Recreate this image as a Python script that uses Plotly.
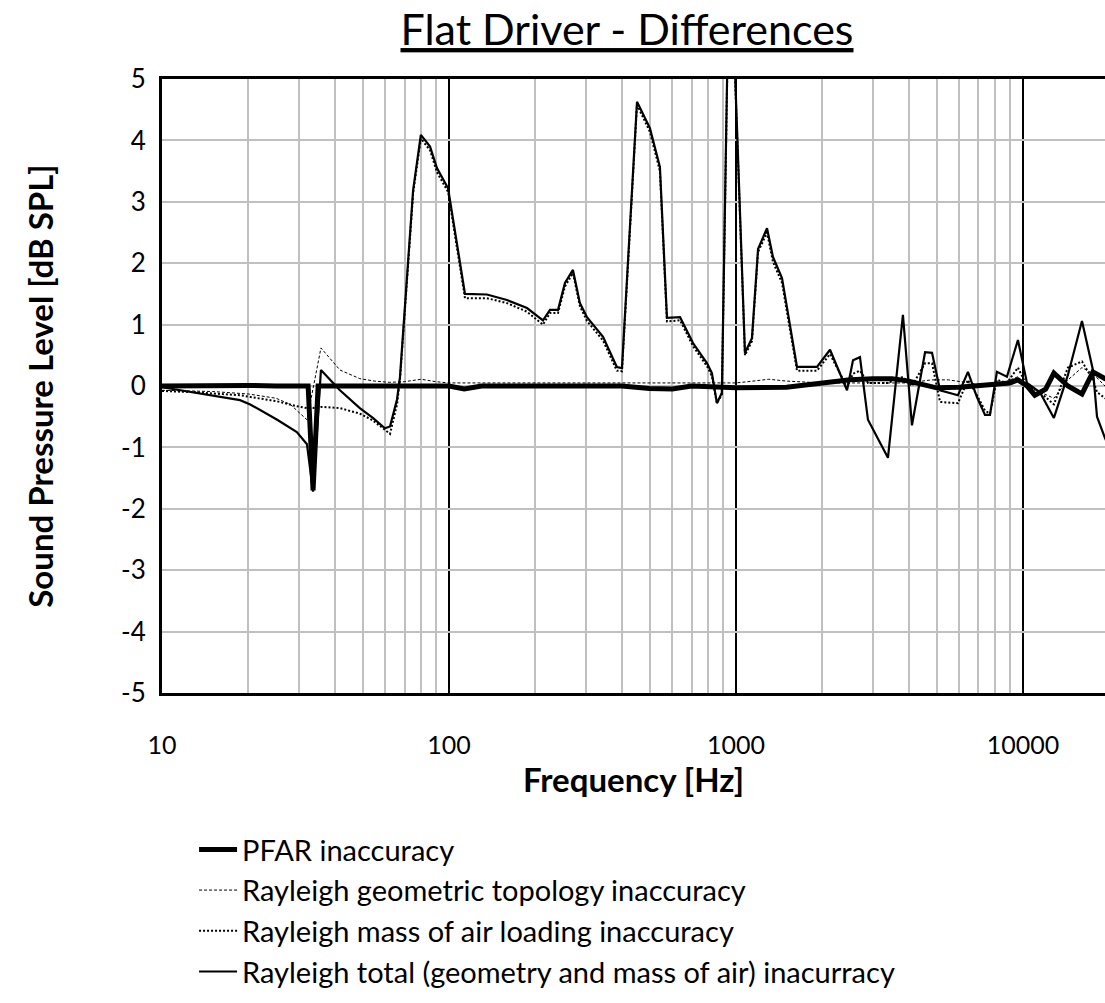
import plotly.graph_objects as go

# ---------------- data ----------------
freq_total = [10, 12.8, 18.7, 20.3, 25.2, 29.5, 32.0, 33.6, 35.8, 41.7, 48.9, 54.3, 59.8, 62.3, 65.9, 67.5,
              75.0, 79.8, 85.9, 90.8, 99.3, 113.7, 135.6, 159.2, 187.0, 212.6, 225.0, 239.9, 253.6, 270.4,
              285.9, 302.6, 344.2, 384.6, 400.7, 452.1, 501.4, 543.3, 574.9, 638.5, 708.5, 793.2, 824.4,
              858.4, 893.2, 946.6, 968.9, 1075, 1137, 1194, 1283, 1346, 1447, 1632, 1916, 2127, 2438, 2558,
              2705, 2884, 3386, 3818, 4105, 4560, 4822, 5143, 5938, 6433, 6914, 7376, 7677, 8117, 8795,
              9608, 10330, 11460, 12820, 14350, 16060, 17540, 18120, 19320, 20000]

rayleigh_total = [-0.02, -0.10, -0.23, -0.30, -0.55, -0.75, -0.95, -1.72, 0.26, -0.07, -0.36, -0.52, -0.69,
                  -0.66, -0.22, 0.15, 3.19, 4.09, 3.90, 3.55, 3.22, 1.50, 1.49, 1.40, 1.27, 1.07, 1.24, 1.24,
                  1.68, 1.89, 1.35, 1.12, 0.80, 0.31, 0.29, 4.63, 4.20, 3.57, 1.11, 1.12, 0.70, 0.37, 0.21,
                  -0.28, -0.11, 7.0, 6.5, 0.54, 0.78, 2.23, 2.57, 2.10, 1.76, 0.31, 0.31, 0.59, -0.07, 0.42,
                  0.47, -0.55, -1.17, 1.16, -0.64, 0.55, 0.54, -0.07, -0.15, 0.23, -0.18, -0.47, -0.47, 0.23,
                  0.15, 0.75, 0.05, -0.10, -0.52, 0.18, 1.06, 0.26, -0.50, -0.85, -1.0]

rayleigh_mass = [-0.08, -0.10, -0.15, -0.18, -0.25, -0.33, -0.36, -0.36, -0.34, -0.36, -0.45, -0.56, -0.72,
                 -0.78, -0.30, 0.10, 3.14, 4.03, 3.84, 3.48, 3.16, 1.43, 1.43, 1.35, 1.21, 1.00, 1.19, 1.19,
                 1.62, 1.84, 1.30, 1.06, 0.74, 0.25, 0.24, 4.58, 4.14, 3.50, 1.05, 1.07, 0.65, 0.32, 0.16,
                 -0.28, -0.14, 6.9, 6.4, 0.50, 0.73, 2.18, 2.50, 2.02, 1.68, 0.25, 0.25, 0.52, -0.02, 0.20,
                 0.25, 0.05, 0.05, 0.15, 0.00, 0.37, 0.37, -0.26, -0.28, 0.10, -0.15, -0.40, -0.45, 0.10,
                 0.05, 0.30, 0.00, -0.10, -0.30, 0.30, 0.40, 0.10, -0.10, -0.20, -0.25]

freq_geo = [10, 15, 20, 25, 28, 30.5, 32, 35.8, 41.7, 48.9, 55, 62, 70, 80, 90, 100, 200, 400, 700, 1000,
            1100, 1300, 1500, 2000, 2500, 3000, 4000, 4800, 5500, 6500, 7500, 8500, 9600, 10330, 11460,
            12820, 14350, 16060, 17540, 19320, 20000]
rayleigh_geo = [-0.07, -0.09, -0.13, -0.20, -0.30, -0.45, -0.55, 0.62, 0.26, 0.12, 0.08, 0.06, 0.07, 0.11,
                0.07, 0.05, 0.05, 0.05, 0.05, 0.05, 0.07, 0.11, 0.08, 0.05, 0.05, 0.05, 0.05, 0.10, 0.10,
                0.05, 0.00, 0.05, 0.15, 0.0, -0.10, -0.20, 0.10, 0.30, 0.20, 0.0, -0.1]

freq_pfar = [10, 15, 20, 25, 30, 32.3, 33.6, 35.0, 40, 60, 100, 113, 130, 200, 400, 500, 600, 700, 1000,
             1500, 2000, 2500, 3000, 3500, 4000, 4500, 5000, 6000, 7000, 8000, 9000, 9600, 10330, 11000,
             12000, 12820, 14350, 16060, 17540, 19320, 20000]
pfar = [0.0, 0.01, 0.01, 0.0, 0.0, 0.0, -1.70, 0.0, 0.0, 0.0, 0.0, -0.05, 0.0, 0.0, 0.0, -0.04, -0.05, 0.0,
        -0.03, -0.02, 0.05, 0.10, 0.12, 0.12, 0.08, 0.02, -0.03, -0.02, 0.0, 0.02, 0.05, 0.10, 0.0, -0.15,
        -0.05, 0.21, 0.0, -0.13, 0.23, 0.12, 0.1]

x_tickvals = [10, 100, 1000, 10000]
x_ticktext = ["10", "100", "1000", "10000"]
y_tickvals = [-5, -4, -3, -2, -1, 0, 1, 2, 3, 4, 5]
y_ticktext = ["-5", "-4", "-3", "-2", "-1", "0", "1", "2", "3", "4", "5"]

FONT = "Lato"

fig = go.Figure()
fig.add_trace(go.Scatter(x=freq_pfar, y=pfar, mode="lines", name="PFAR inaccuracy",
                         legendgroup="g1", line=dict(color="black", width=5)))
fig.add_trace(go.Scatter(x=freq_geo, y=rayleigh_geo, mode="lines",
                         name="Rayleigh geometric topology inaccuracy", legendgroup="g2",
                         line=dict(color="black", width=1, dash="3px,2px")))
fig.add_trace(go.Scatter(x=freq_total, y=rayleigh_mass, mode="lines",
                         name="Rayleigh mass of air loading inaccuracy", legendgroup="g3",
                         line=dict(color="black", width=2, dash="2px,2px")))
fig.add_trace(go.Scatter(x=freq_total, y=rayleigh_total, mode="lines",
                         name="Rayleigh total (geometry and mass of air) inacurracy", legendgroup="g4",
                         line=dict(color="black", width=2.2)))

fig.update_layout(
    width=1105, height=1003,
    margin=dict(l=162, r=0, t=79, b=310),
    paper_bgcolor="white", plot_bgcolor="white",
    font=dict(family=FONT, color="black"),
    title=dict(text="Flat Driver - Differences", xref="container", yref="container",
               x=627 / 1105, y=1 - 30 / 1003, xanchor="center", yanchor="middle",
               font=dict(family=FONT, size=43, color="black", lineposition="under")),
    showlegend=True,
    legend=dict(orientation="v", x=0.034, y=-0.2134, xanchor="left", yanchor="top",
                font=dict(family=FONT, size=29, color="black"), tracegroupgap=0,
                itemwidth=38, bgcolor="rgba(0,0,0,0)"),
    xaxis=dict(type="log", range=[1, 4.286], tickvals=x_tickvals, ticktext=x_ticktext,
               showgrid=True, gridcolor="black", gridwidth=2,
               minor=dict(showgrid=True, gridcolor="#c0c0c0", gridwidth=2, dtick="D1", ticks=""),
               showline=True, linecolor="black", linewidth=3, mirror=True,
               ticks="", ticklabelstandoff=28,
               tickfont=dict(family=FONT, size=25, color="black"),
               title=dict(text="<b>Frequency [Hz]</b>", standoff=3,
                          font=dict(family=FONT, size=33, color="black"))),
    yaxis=dict(range=[-5, 5], tickvals=y_tickvals, ticktext=y_ticktext,
               showgrid=True, gridcolor="#c0c0c0", gridwidth=2,
               zeroline=False, showline=True, linecolor="black", linewidth=3, mirror=False,
               ticks="", ticklabelstandoff=8,
               tickfont=dict(family=FONT, size=26, color="black"),
               title=dict(text="<b>Sound Pressure Level [dB SPL]</b>", standoff=58,
                          font=dict(family=FONT, size=33, color="black"))),
)

fig.write_html("out.html")
